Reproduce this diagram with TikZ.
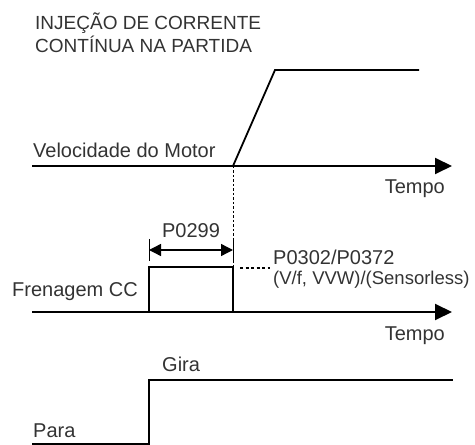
\documentclass[tikz,border=0pt]{standalone}
\usepackage{fontspec}
\setmainfont{Liberation Sans}
\usetikzlibrary{arrows.meta}
\begin{document}
\begin{tikzpicture}[x=1pt,y=1pt,
  lbl/.style={inner sep=0pt, text=black!80, font=\fontsize{20}{24}\selectfont},
  axis/.style={line width=2pt, -{Triangle[length=17pt,width=16pt]}},
  sig/.style={line width=1.8pt},
  dimln/.style={line width=1.4pt, {Triangle[length=12pt,width=12pt]}-{Triangle[length=12pt,width=12pt]}},
  tick/.style={line width=0.6pt}]
\useasboundingbox (0,0) rectangle (475,445);
% coordinates
\coordinate (a1s) at (32,279);
\coordinate (a1e) at (452,279);
\coordinate (r0) at (233,279);
\coordinate (r1) at (275,375);
\coordinate (r2) at (419,375);
\coordinate (a2s) at (32,133);
\coordinate (a2e) at (452,133);
\coordinate (bl) at (149,133);
\coordinate (tl) at (149,178);
\coordinate (tr) at (233,178);
\coordinate (br) at (233,133);
\coordinate (t1a) at (149,206);
\coordinate (t1b) at (149,184);
\coordinate (t2a) at (233,206);
\coordinate (t2b) at (233,184);
\coordinate (d1) at (149,195);
\coordinate (d2) at (233,195);
\coordinate (p0) at (240,177);
\coordinate (p1) at (270,177);
\coordinate (ps) at (32,1);
\coordinate (pe) at (149,1);
\coordinate (gs) at (149,65);
\coordinate (ge) at (453,65);
% texts
\node[lbl, anchor=base west, font=\fontsize{19}{23}\selectfont] (title1) at (35,415) {INJEÇÃO DE CORRENTE};
\node[lbl, anchor=base west, font=\fontsize{19}{23}\selectfont] (title2) at (35,392) {CONTÍNUA NA PARTIDA};
\node[lbl, anchor=base west] (vel) at (33,287) {Velocidade do Motor};
\node[lbl, anchor=base east] (tempo1) at (445,251) {Tempo};
\node[lbl, anchor=base] (p299) at (191,207) {P0299};
\node[lbl, anchor=base west] (p302) at (273,180) {P0302/P0372};
\node[lbl, anchor=base west, font=\fontsize{18.5}{22}\selectfont] (vvw) at (273,160) {(V/f, VVW)/(Sensorless)};
\node[lbl, anchor=base west] (fren) at (12,148) {Frenagem CC};
\node[lbl, anchor=base east] (tempo2) at (445,104) {Tempo};
\node[lbl, anchor=base west] (gira) at (162,73) {Gira};
\node[lbl, anchor=base west] (para) at (33,7) {Para};
% speed
\draw[axis] (a1s) -- (a1e);
\draw[sig, line join=miter] (r0) -- (r1) -- (r2);
\draw[line width=0.6pt, dash pattern=on 2.5pt off 2pt] (r0) -- (tr);
% brake
\draw[axis] (a2s) -- (a2e);
\draw[sig] (bl) -- (tl) -- (tr) -- (br);
\draw[tick] (t1a) -- (t1b);
\draw[tick] (t2a) -- (t2b);
\draw[dimln] (d1) -- (d2);
\draw[line width=1.4pt, dash pattern=on 3pt off 2.5pt] (p0) -- (p1);
% run/stop
\draw[sig] (ps) -- (pe) -- (gs) -- (ge);
\end{tikzpicture}
\end{document}
